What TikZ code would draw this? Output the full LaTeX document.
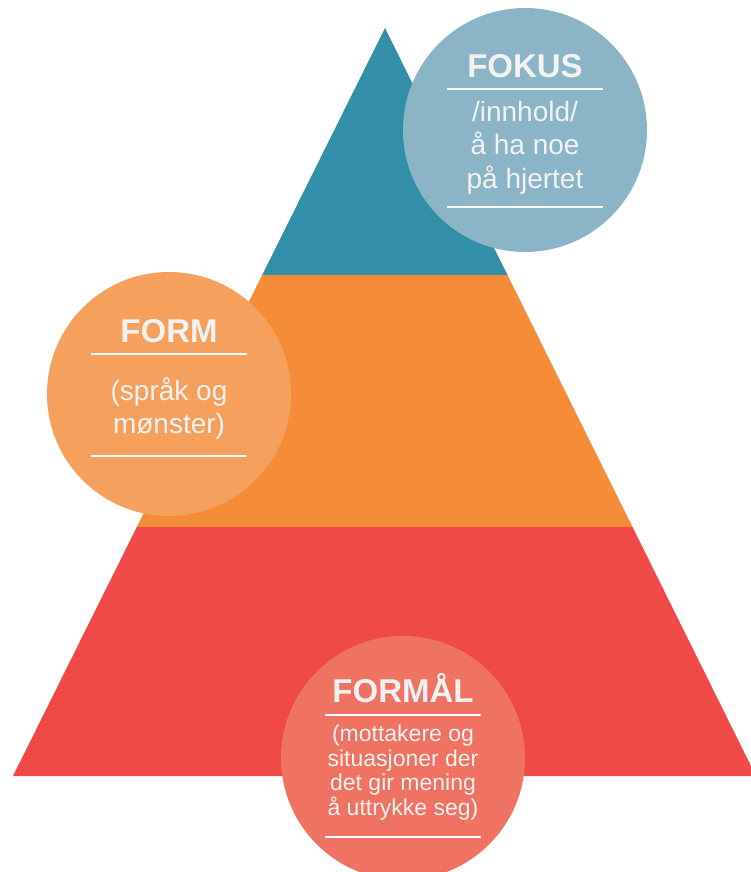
\documentclass[tikz,border=0pt]{standalone}
\usepackage{fontspec}
\setmainfont{Liberation Sans}
\definecolor{topteal}{HTML}{338FA8}
\definecolor{midorange}{HTML}{F48C38}
\definecolor{basered}{HTML}{EF4A47}
\definecolor{fokusfill}{HTML}{8BB4C6}
\definecolor{formfill}{HTML}{F5A05C}
\definecolor{formaalfill}{HTML}{F07262}
\definecolor{paletext}{HTML}{F2F2F2}
\begin{document}
\begin{tikzpicture}[x=1pt, y=-1pt,
                    bubble/.style={circle, inner sep=0pt, minimum size=244pt},
                    title/.style={anchor=base, inner sep=0pt, text=paletext,
                                  font=\fontsize{33}{36}\selectfont\bfseries},
                    body/.style={anchor=base, inner sep=0pt, text=paletext, align=center},
                    rule/.style={white, line width=1.5pt}]
    \useasboundingbox (0,0) rectangle (750,872);

    % pyramid layers
    \fill[topteal]   (385,28) -- (507.5,275) -- (262.2,275) -- cycle;
    \fill[midorange] (262.2,275) -- (507.5,275) -- (632.5,527) -- (136.8,527) -- cycle;
    \fill[basered]   (136.8,527) -- (632.5,527) -- (756,776) -- (13,776) -- cycle;

    % circles
    \node[bubble, fill=fokusfill]   (fokus)   at (525,130) {};
    \node[bubble, fill=formfill]    (form)    at (169,394) {};
    \node[bubble, fill=formaalfill] (formaal) at (403,758) {};

    % FOKUS (body anchored at last baseline)
    \node[title] (fokustitle) at (525,78) {FOKUS};
    \draw[rule] (447,89) -- (603,89);
    \node[body, font=\fontsize{28}{33.5}\selectfont] (fokustext) at (525,188)
        {/innhold/\\å ha noe\\på hjertet};
    \draw[rule] (447,207) -- (603,207);

    % FORM
    \node[title] (formtitle) at (169,342) {FORM};
    \draw[rule] (91,354) -- (247,354);
    \node[body, font=\fontsize{28}{33}\selectfont] (formtext) at (169,433)
        {(språk og\\mønster)};
    \draw[rule] (91,456) -- (247,456);

    % FORMÅL
    \node[title] (formaaltitle) at (403,702) {FORMÅL};
    \draw[rule] (325,715) -- (481,715);
    \node[body, font=\fontsize{23}{24.5}\selectfont] (formaaltext) at (403,815)
        {(mottakere og\\situasjoner der\\det gir mening\\å uttrykke seg)};
    \draw[rule] (325,837) -- (481,837);
\end{tikzpicture}
\end{document}
